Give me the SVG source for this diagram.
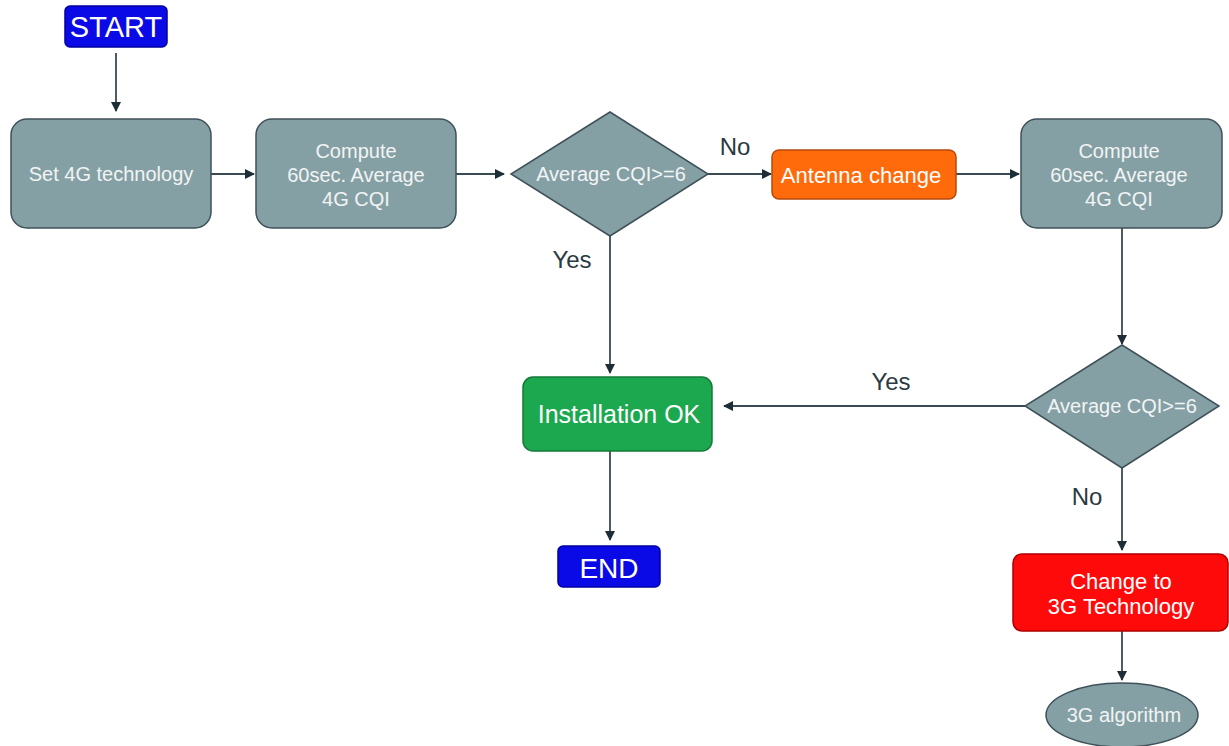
<svg xmlns="http://www.w3.org/2000/svg" width="1229" height="746" viewBox="0 0 1229 746">
<defs>
<marker id="ah" viewBox="0 0 10 10" refX="9" refY="5" markerWidth="10" markerHeight="10" markerUnits="userSpaceOnUse" orient="auto">
<path d="M0,0 L10,5 L0,10 z" fill="#1e2e36"/>
</marker>
</defs>
<style>
text{font-family:"Liberation Sans",Arial,sans-serif;text-anchor:middle;}
.g{fill:#85a0a5;stroke:#3f5158;stroke-width:1.5;}
.gt{fill:#f2f4f4;font-size:20px;}
.wt{fill:#ffffff;}
.lbl{fill:#2a3a42;font-size:24px;}
.c{fill:none;stroke:#3a4a52;stroke-width:1.8;marker-end:url(#ah);}
</style>
<rect width="1229" height="746" fill="#ffffff"/>
<g id="connectors">
<line class="c" x1="116" y1="53" x2="116" y2="111"/>
<line class="c" x1="211" y1="174" x2="254" y2="174"/>
<line class="c" x1="456" y1="174" x2="504" y2="174"/>
<line class="c" x1="708" y1="174" x2="771" y2="174"/>
<line class="c" x1="956" y1="174" x2="1019" y2="174"/>
<line class="c" x1="1122" y1="228" x2="1122" y2="344"/>
<line class="c" x1="610" y1="236" x2="610" y2="373"/>
<line class="c" x1="1025" y1="406" x2="724" y2="406"/>
<line class="c" x1="610" y1="451" x2="610" y2="540"/>
<line class="c" x1="1122" y1="468" x2="1122" y2="550"/>
<line class="c" x1="1122" y1="631" x2="1122" y2="680"/>
<text class="lbl" x="735" y="155">No</text>
<text class="lbl" x="572" y="268">Yes</text>
<text class="lbl" x="891" y="390">Yes</text>
<text class="lbl" x="1087" y="505">No</text>
</g>
<g id="start">
<rect x="65" y="6" width="102" height="41" rx="5" fill="#0a0ae6" stroke="#0000a0" stroke-width="1.5"/>
<text class="wt" x="116" y="37" font-size="29">START</text>
</g>
<g id="set4g">
<rect class="g" x="11" y="119" width="200" height="109" rx="16"/>
<text class="gt" x="111" y="181">Set 4G technology</text>
</g>
<g id="compute1">
<rect class="g" x="256" y="119" width="200" height="109" rx="16"/>
<text class="gt" x="356" y="158">Compute</text>
<text class="gt" x="356" y="182">60sec. Average</text>
<text class="gt" x="356" y="206">4G CQI</text>
</g>
<g id="decision1">
<polygon class="g" points="610,112 708,174 610,236 511,174"/>
<text class="gt" x="611" y="181">Average CQI&gt;=6</text>
</g>
<g id="antenna">
<rect x="772" y="150" width="184" height="49" rx="7" fill="#ff6a0a" stroke="#b84a10" stroke-width="1.5"/>
<text class="wt" x="861" y="183" font-size="22">Antenna change</text>
</g>
<g id="compute2">
<rect class="g" x="1021" y="119" width="201" height="109" rx="16"/>
<text class="gt" x="1119" y="158">Compute</text>
<text class="gt" x="1119" y="182">60sec. Average</text>
<text class="gt" x="1119" y="206">4G CQI</text>
</g>
<g id="decision2">
<polygon class="g" points="1122,345 1219,406 1122,468 1025,406"/>
<text class="gt" x="1122" y="413">Average CQI&gt;=6</text>
</g>
<g id="installok">
<rect x="523" y="377" width="189" height="74" rx="10" fill="#1ca84e" stroke="#137a38" stroke-width="1.5"/>
<text class="wt" x="619" y="423" font-size="25">Installation OK</text>
</g>
<g id="end">
<rect x="558" y="546" width="102" height="41" rx="5" fill="#0a0ae6" stroke="#0000a0" stroke-width="1.5"/>
<text class="wt" x="609" y="578" font-size="28">END</text>
</g>
<g id="change3g">
<rect x="1013" y="554" width="215" height="77" rx="9" fill="#ff0a0a" stroke="#b00000" stroke-width="1.5"/>
<text class="wt" x="1121" y="589" font-size="22">Change to</text>
<text class="wt" x="1121" y="614" font-size="22">3G Technology</text>
</g>
<g id="alg3g">
<ellipse class="g" cx="1122" cy="715" rx="76" ry="32"/>
<text class="gt" x="1124" y="722" font-size="19">3G algorithm</text>
</g>
</svg>
